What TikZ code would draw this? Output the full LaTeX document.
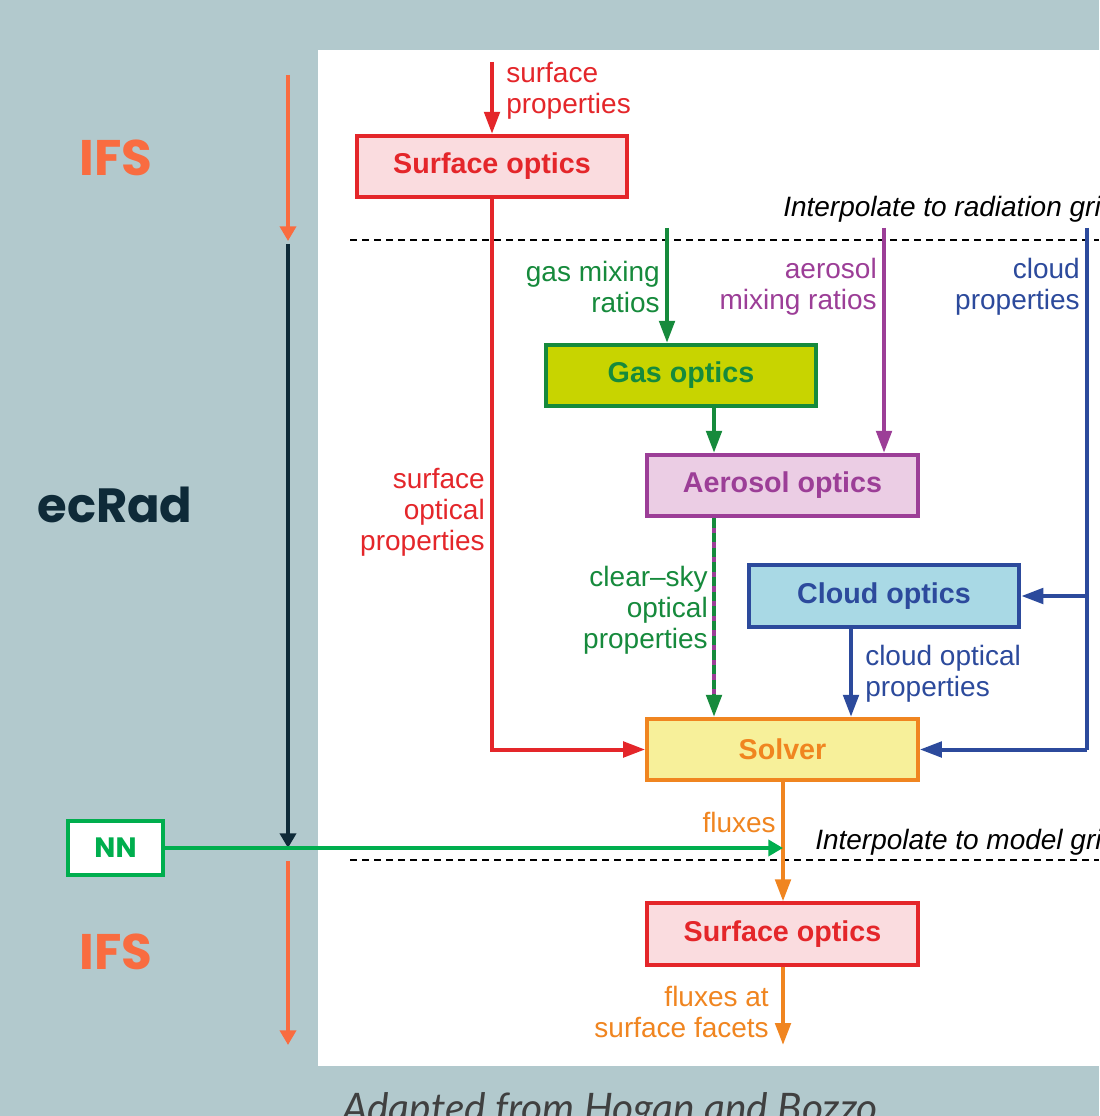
\documentclass[tikz,border=0pt]{standalone}
\usepackage{fontspec}
\setmainfont{Liberation Sans}
\newfontfamily\popfont{Poppins}
\newfontfamily\latofont{Lato}
\usetikzlibrary{arrows.meta,calc}
\definecolor{bgc}{RGB}{178,201,205}
\definecolor{ifsc}{RGB}{249,108,64}
\definecolor{navy}{RGB}{14,42,56}
\definecolor{nngreen}{RGB}{0,174,78}
\definecolor{dred}{RGB}{228,38,42}
\definecolor{pinkf}{RGB}{250,220,223}
\definecolor{dgreen}{RGB}{22,138,60}
\definecolor{gasf}{RGB}{200,212,0}
\definecolor{purp}{RGB}{156,62,151}
\definecolor{aerof}{RGB}{235,205,228}
\definecolor{dblue}{RGB}{44,74,156}
\definecolor{cloudf}{RGB}{169,217,229}
\definecolor{orng}{RGB}{240,133,32}
\definecolor{solvf}{RGB}{247,240,154}
\definecolor{capc}{RGB}{64,64,64}
\begin{document}
\begin{tikzpicture}[x=0.75pt,y=-0.75pt,
  lbl/.style={font=\fontsize{21}{23.3}\selectfont, inner sep=0pt},
  boxn/.style={draw, line width=3pt, minimum width=203pt, minimum height=46pt,
    inner sep=0pt, font=\bfseries\fontsize{21.5}{24}\selectfont},
  arr/.style={line width=3pt, -{Triangle[length=16.5pt,width=11.5pt]}},
  side/.style={line width=3pt, -{Triangle[length=11pt,width=12pt]}},
  big/.style={font=\popfont\bfseries\fontsize{37.5}{40}\selectfont, inner sep=0pt},
  dline/.style={line width=1.1pt, dash pattern=on 5pt off 4pt}
]
\useasboundingbox (0,0) rectangle (1099,1116);
\clip (0,0) rectangle (1099,1116);
\fill[bgc] (0,0) rectangle (1099,1116);
\fill[white] (318,50) rectangle (1099,1066);

% caption
\node[anchor=base west, inner sep=0pt, text=capc, font=\latofont\itshape\fontsize{30.5}{32}\selectfont] (cap) at (342,1122) {Adapted from Hogan and Bozzo};

% left side
\node[big, text=ifsc] (ifs1) at (116,158) {IFS};
\node[big, text=navy, font=\popfont\bfseries\fontsize{36}{40}\selectfont] (ecrad) at (115,505) {ecRad};
\node[big, text=ifsc] (ifs2) at (116,952) {IFS};
\node[draw=nngreen, fill=white, line width=3pt, minimum width=71pt, minimum height=41pt, inner sep=0pt,
  text=nngreen, font=\popfont\bfseries\fontsize{21}{22}\selectfont] (nn) at (115.5,848) {NN};

\coordinate (i0) at (288,75);
\coordinate (i1) at (288,241);
\coordinate (e0) at (288,244);
\coordinate (e1) at (288,848);
\coordinate (i2) at (288,861);
\coordinate (i3) at (288,1045);
\draw[side, ifsc] (i0) -- (i1);
\draw[side, navy, line width=3pt] (e0) -- (e1);
\draw[side, ifsc] (i2) -- (i3);

% dashed lines
\draw[dline] (350,240) -- (1099,240);
\draw[dline] (350,860) -- (1099,860);
\node[lbl, anchor=west, font=\itshape\fontsize{21}{23.3}\selectfont] (interp1) at (783,209) {Interpolate to radiation grid};
\node[lbl, anchor=west, font=\itshape\fontsize{21}{23.3}\selectfont] (interp2) at (815,842) {Interpolate to model grid};

% boxes
\node[boxn, draw=dred, fill=pinkf, text=dred] (surf1) at (492,166.5) {Surface optics};
\node[boxn, draw=dgreen, fill=gasf, text=dgreen] (gas) at (681,375.5) {Gas optics};
\node[boxn, draw=purp, fill=aerof, text=purp] (aero) at (782.5,485.5) {Aerosol optics};
\node[boxn, draw=dblue, fill=cloudf, text=dblue] (cloud) at (884,596) {Cloud optics};
\node[boxn, draw=orng, fill=solvf, text=orng] (solver) at (782.5,749.5) {Solver};
\node[boxn, draw=dred, fill=pinkf, text=dred] (surf2) at (782.5,934) {Surface optics};

% coordinates
\coordinate (sp) at (492,62);
\coordinate (g0) at (667,228);
\coordinate (a0) at (884,228);
\coordinate (c0) at (1087,228);
\coordinate (xa) at (714,0);
\coordinate (xc) at (851,0);
\coordinate (xo) at (783,0);
\coordinate (out) at (783,1045);

% connectors
\draw[arr, dred] (sp) -- (surf1.north);
\draw[arr, dred] (surf1.south) |- (solver.west);
\draw[arr, dgreen] (g0) -- (g0 |- gas.north);
\draw[arr, dgreen] (gas.south -| xa) -- (aero.north -| xa);
\draw[arr, purp] (a0) -- (a0 |- aero.north);
\draw[line width=3pt, dblue] (c0) -- (c0 |- solver.east);
\draw[arr, dblue] (c0 |- solver.east) -- (solver.east);
\draw[arr, dblue] (c0 |- cloud.east) -- (cloud.east);
\draw[line width=3pt, purp, shorten >=10pt] (aero.south -| xa) -- (solver.north -| xa);
\draw[arr, dgreen, dash pattern=on 7pt off 4pt] (aero.south -| xa) -- (solver.north -| xa);
\draw[arr, dblue] (cloud.south -| xc) -- (solver.north -| xc);
\draw[arr, orng] (solver.south -| xo) -- (surf2.north -| xo);
\draw[arr, orng] (surf2.south -| xo) -- (out);
\draw[side, nngreen, line width=3pt] (nn.east) -- (nn.east -| xo);

% labels
\node[lbl, text=dred, anchor=west, align=left] (l1) at (506,90.5) {surface\\properties};
\node[lbl, text=dred, anchor=east, align=right] (l2) at (485,512) {surface\\optical\\properties};
\node[lbl, text=dgreen, anchor=east, align=right] (l3) at (660,287) {gas mixing\\ratios};
\node[lbl, text=purp, anchor=east, align=right] (l4) at (877,287) {aerosol\\mixing ratios};
\node[lbl, text=dblue, anchor=east, align=right] (l5) at (1080,287) {cloud\\properties};
\node[lbl, text=dgreen, anchor=east, align=right] (l6) at (708,610) {clear–sky\\optical\\properties};
\node[lbl, text=dblue, anchor=west, align=left] (l7) at (865,674) {cloud optical\\properties};
\node[lbl, text=orng, anchor=east, align=right] (l8) at (776,822) {fluxes};
\node[lbl, text=orng, anchor=east, align=right] (l9) at (769,1012) {fluxes at\\surface facets};
\end{tikzpicture}
\end{document}
